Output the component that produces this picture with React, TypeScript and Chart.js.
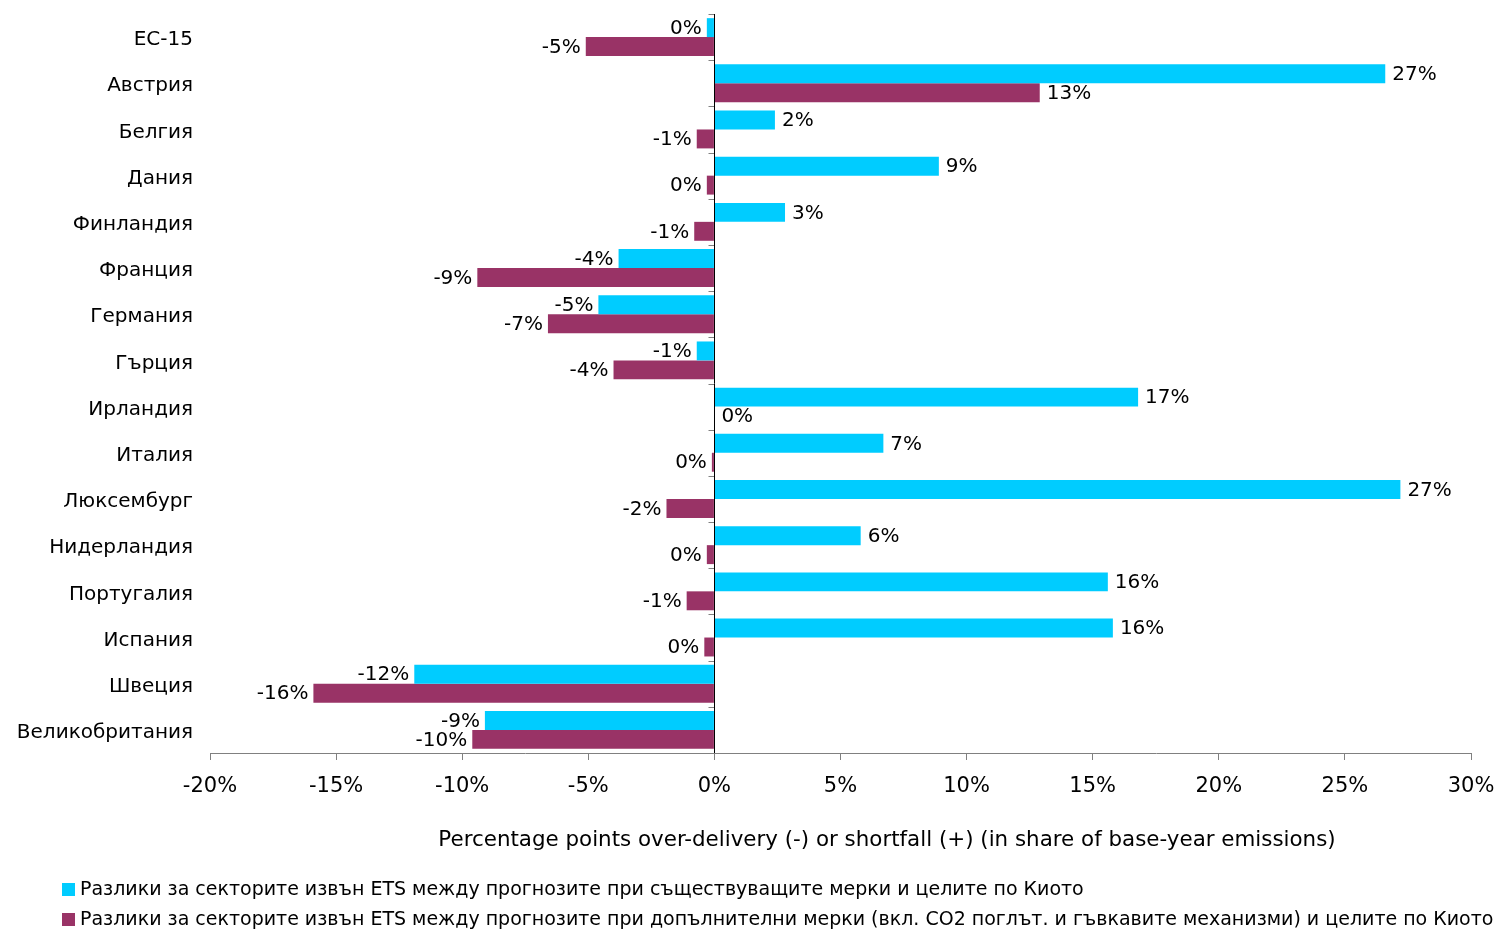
import React, { useEffect, useRef } from "react";
import { Chart, registerables } from "chart.js";

Chart.register(...registerables);

const categories = [
  "ЕС-15",
  "Австрия",
  "Белгия",
  "Дания",
  "Финландия",
  "Франция",
  "Германия",
  "Гърция",
  "Ирландия",
  "Италия",
  "Люксембург",
  "Нидерландия",
  "Португалия",
  "Испания",
  "Швеция",
  "Великобритания",
];

const existingMeasures = [
  -0.3, 26.6, 2.4, 8.9, 2.8, -3.8, -4.6, -0.7, 16.8, 6.7, 27.2, 5.8, 15.6, 15.8, -11.9, -9.1,
];

const additionalMeasures = [
  -5.1, 12.9, -0.7, -0.3, -0.8, -9.4, -6.6, -4.0, 0, -0.1, -1.9, -0.3, -1.1, -0.4, -15.9, -9.6,
];

const seriesLabels = [
  "Разлики за секторите извън ETS между прогнозите при съществуващите мерки и целите по Киото",
  "Разлики за секторите извън ETS между прогнозите при допълнителни мерки (вкл. CO2 поглът. и гъвкавите механизми) и целите по Киото",
];

const axisTitle =
  "Percentage points over-delivery (-) or shortfall (+) (in share of base-year emissions)";

const xMin = -20;
const xMax = 30;
const xStep = 5;

const colors = ["#00CCFF", "#993366"];
const FAMILY = "'DejaVu Sans', Verdana, sans-serif";
const FS = 20;

const labelsPlugin = {
  id: "barLabels",
  afterDatasetsDraw(chart: any) {
    const ctx = chart.ctx;
    ctx.save();
    ctx.font = `${FS}px ${FAMILY}`;
    ctx.fillStyle = "#000";
    ctx.textBaseline = "middle";
    chart.data.datasets.forEach((ds: any, i: number) => {
      const meta = chart.getDatasetMeta(i);
      meta.data.forEach((bar: any, j: number) => {
        const v = ds.data[j];
        const r = Math.round(v);
        const txt = `${r === 0 ? 0 : r}%`;
        if (v >= 0) {
          ctx.textAlign = "left";
          ctx.fillText(txt, bar.x + 7, bar.y + 1);
        } else {
          ctx.textAlign = "right";
          ctx.fillText(txt, bar.x - 5, bar.y + 1);
        }
      });
    });
    // zero axis line and category ticks
    const x0 = Math.round(chart.scales.x.getPixelForValue(0)) + 0.5;
    const { top, bottom } = chart.chartArea;
    const n = categories.length;
    ctx.strokeStyle = "#808080";
    ctx.lineWidth = 1;
    ctx.beginPath();
    for (let k = 0; k <= n; k++) {
      const y = Math.round(top + (k * (bottom - top)) / n) + 0.5;
      ctx.moveTo(x0 - 6, y);
      ctx.lineTo(x0, y);
    }
    ctx.stroke();
    ctx.strokeStyle = "#000";
    ctx.beginPath();
    ctx.moveTo(x0, top);
    ctx.lineTo(x0, bottom);
    ctx.stroke();
    ctx.restore();
  },
  afterDraw(chart: any) {
    const ctx = chart.ctx;
    ctx.save();
    ctx.font = `21.4px ${FAMILY}`;
    ctx.fillStyle = "#000";
    ctx.textBaseline = "middle";
    ctx.textAlign = "center";
    ctx.fillText(axisTitle, 887, 840);
    ctx.textAlign = "left";
    ctx.font = `${FS - 1}px ${FAMILY}`;
    seriesLabels.forEach((lab, i) => {
      const y = 890 + i * 30;
      ctx.fillStyle = colors[i];
      ctx.fillRect(62, y - 7, 13, 13);
      ctx.fillStyle = "#000";
      ctx.fillText(lab, 80, y);
    });
    ctx.restore();
  },
};

export default function App() {
  const ref = useRef<HTMLCanvasElement>(null);
  useEffect(() => {
    if (!ref.current) return;
    const chart = new Chart(ref.current, {
      type: "bar",
      data: {
        labels: categories,
        datasets: [
          {
            label: seriesLabels[0],
            data: existingMeasures,
            backgroundColor: colors[0],
            barPercentage: 1,
            categoryPercentage: 0.82,
          },
          {
            label: seriesLabels[1],
            data: additionalMeasures,
            backgroundColor: colors[1],
            barPercentage: 1,
            categoryPercentage: 0.82,
          },
        ],
      },
      options: {
        indexAxis: "y",
        animation: false,
        responsive: false,
        devicePixelRatio: 1,
        layout: { padding: { left: 0, right: 28, top: 14, bottom: 117 } },
        plugins: {
          legend: { display: false },
          tooltip: { enabled: false },
        },
        scales: {
          x: {
            min: xMin,
            max: xMax,
            afterFit(scale: any) {
              scale.height = 60;
              scale.paddingLeft = 0;
              scale.paddingRight = 0;
            },
            ticks: {
              stepSize: xStep,
              color: "#000",
              padding: 14,
              maxRotation: 0,
              font: { family: FAMILY, size: 21 },
              callback: (v: any) => `${v}%`,
            },
            grid: {
              display: true,
              drawOnChartArea: false,
              drawTicks: true,
              tickLength: 7,
              color: "#808080",
            },
            border: { display: true, color: "#808080" },
          },
          y: {
            afterFit(scale: any) {
              scale.width = 210;
              scale.paddingTop = 0;
              scale.paddingBottom = 0;
            },
            ticks: {
              color: "#000",
              padding: 17,
              labelOffset: 3,
              font: { family: FAMILY, size: FS },
            },
            grid: { display: false, drawTicks: false },
            border: { display: false },
          },
        },
      },
      plugins: [labelsPlugin],
    });
    return () => chart.destroy();
  }, []);
  return (
    <canvas
      ref={ref}
      width={1499}
      height={930}
      style={{ position: "absolute", left: 0, top: 0, display: "block" }}
    />
  );
}
